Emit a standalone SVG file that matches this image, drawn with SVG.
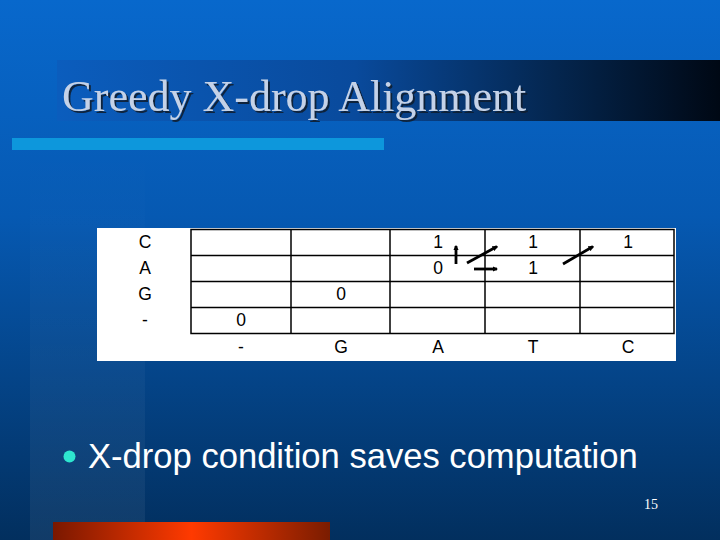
<svg xmlns="http://www.w3.org/2000/svg" width="720" height="540" viewBox="0 0 720 540">
<defs>
<linearGradient id="bg" x1="0" y1="0" x2="0" y2="1">
<stop offset="0" stop-color="#0868CC"/>
<stop offset="0.4" stop-color="#0659B2"/>
<stop offset="1" stop-color="#022F5E"/>
</linearGradient>
<linearGradient id="strip" x1="0" y1="0" x2="0" y2="1">
<stop offset="0" stop-color="#FFFFFF" stop-opacity="0"/>
<stop offset="1" stop-color="#FFFFFF" stop-opacity="0.06"/>
</linearGradient>
<linearGradient id="band" x1="0" y1="0" x2="1" y2="0">
<stop offset="0" stop-color="#0B5DBD"/>
<stop offset="0.45" stop-color="#094A9C"/>
<stop offset="0.75" stop-color="#04264F"/>
<stop offset="1" stop-color="#000814"/>
</linearGradient>
<linearGradient id="orange" x1="0" y1="0" x2="1" y2="0">
<stop offset="0" stop-color="#7A1800"/>
<stop offset="0.5" stop-color="#FF3A00"/>
<stop offset="1" stop-color="#7A1C00"/>
</linearGradient>
<filter id="shadow" x="-5%" y="-20%" width="110%" height="150%">
<feDropShadow dx="2" dy="2" stdDeviation="0.6" flood-color="#0A1A33" flood-opacity="0.9"/>
</filter>
<marker id="ah" viewBox="0 0 10 10" refX="8" refY="5" markerWidth="2" markerHeight="2" orient="auto" markerUnits="strokeWidth">
<path d="M0,0 L10,5 L0,10 Z" fill="#000"/>
</marker>
<style>
.cell{fill:none;stroke:#000;stroke-width:1.5}
.t{font-family:"Liberation Sans",Arial,sans-serif;font-size:17.5px;fill:#000;text-anchor:middle}
.arr{stroke:#000;stroke-width:2.8;fill:none;marker-end:url(#ah)}
</style>
</defs>

<g id="background">
<rect x="0" y="0" width="720" height="540" fill="url(#bg)"/>
<rect x="30" y="150" width="115" height="390" fill="url(#strip)"/>
<rect x="57" y="60" width="663" height="61" fill="url(#band)"/>
<rect x="12" y="138" width="372" height="12" fill="#0D97DC"/>
<rect x="53" y="522" width="277" height="18" fill="url(#orange)"/>
</g>

<g id="title">
<text x="62" y="111" font-family="'Liberation Serif','Times New Roman',serif" font-size="44" fill="#C4D2E8" filter="url(#shadow)">Greedy X-drop Alignment</text>
</g>

<g id="table">
<rect x="97" y="228" width="579" height="133" fill="#FFFFFF"/>
<g id="grid">
<rect class="cell" x="191" y="229.5" width="483" height="104"/>
<line class="cell" x1="191" y1="255.5" x2="674" y2="255.5"/>
<line class="cell" x1="191" y1="281.5" x2="674" y2="281.5"/>
<line class="cell" x1="191" y1="307.5" x2="674" y2="307.5"/>
<line class="cell" x1="291" y1="229.5" x2="291" y2="333.5"/>
<line class="cell" x1="390" y1="229.5" x2="390" y2="333.5"/>
<line class="cell" x1="485" y1="229.5" x2="485" y2="333.5"/>
<line class="cell" x1="580" y1="229.5" x2="580" y2="333.5"/>
</g>
<g id="row-labels">
<text class="t" x="145" y="248">C</text>
<text class="t" x="145" y="274">A</text>
<text class="t" x="145" y="300">G</text>
<text class="t" x="145" y="326">-</text>
</g>
<g id="col-labels">
<text class="t" x="241" y="353">-</text>
<text class="t" x="341" y="353">G</text>
<text class="t" x="438" y="353">A</text>
<text class="t" x="533" y="353">T</text>
<text class="t" x="628" y="353">C</text>
</g>
<g id="values">
<text class="t" x="438" y="248">1</text>
<text class="t" x="533" y="248">1</text>
<text class="t" x="628" y="248">1</text>
<text class="t" x="438" y="274">0</text>
<text class="t" x="533" y="274">1</text>
<text class="t" x="341" y="300">0</text>
<text class="t" x="241" y="326">0</text>
</g>
</g>

<g id="connectors">
<line class="arr" x1="456" y1="264" x2="456" y2="246"/>
<line class="arr" x1="467" y1="263" x2="497" y2="246.5"/>
<line class="arr" x1="474" y1="269" x2="497" y2="269"/>
<line class="arr" x1="563" y1="264" x2="593" y2="246.5"/>
</g>

<g id="bullet">
<circle cx="69.5" cy="456.5" r="6" fill="#2EE6CF"/>
<text x="88" y="468" font-family="'Liberation Sans',Arial,sans-serif" font-size="34.6" fill="#FFFFFF">X-drop condition saves computation</text>
</g>

<g id="page-number">
<text x="651" y="509" font-family="'Liberation Serif','Times New Roman',serif" font-size="14" fill="#FFFFFF" text-anchor="middle">15</text>
</g>
</svg>
